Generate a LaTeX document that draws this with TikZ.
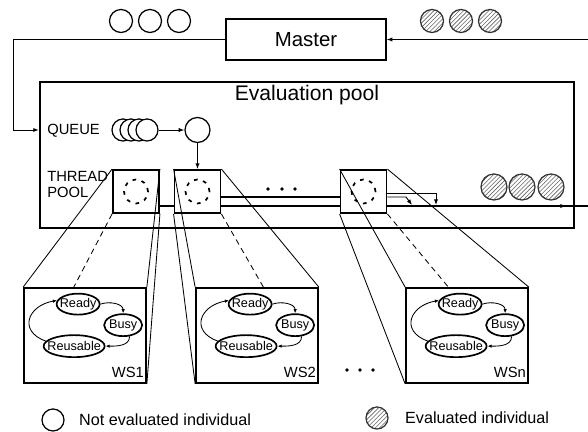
\documentclass[tikz,border=0pt]{standalone}
\usepackage{fontspec}
\setmainfont{Liberation Sans}
\usetikzlibrary{arrows.meta,patterns,positioning,shapes.geometric}

\tikzset{
  ind/.style={circle,draw,line width=0.9pt,minimum size=0.575cm,inner sep=0pt},
  evalind/.style={ind,draw=black!80,pattern=north east lines,pattern color=black!60},
  tpbox/.style={draw,line width=1.3pt,minimum width=1.15cm,minimum height=1.075cm,inner sep=0pt},
  wsbox/.style={draw,line width=1.2pt,fill=white,minimum width=3.05cm,minimum height=2.375cm,inner sep=0pt},
  wsstate/.style={ellipse,draw,line width=1.2pt,inner sep=0pt,font=\fontsize{9}{10}\selectfont},
  tagtext/.style={font=\fontsize{10.5}{11.5}\selectfont,inner sep=0pt},
  flow/.style={line width=0.7pt,-{Latex[length=4pt,width=3pt]}},
  statearrow/.style={line width=0.6pt,-{Latex[length=3pt,width=2.5pt]}},
  zoomline/.style={line width=0.6pt},
  hidden/.style={line width=0.6pt,dash pattern=on 4pt off 3pt},
}

\begin{document}
\begin{tikzpicture}[x=0.025cm,y=-0.025cm]
  \useasboundingbox (0,0) rectangle (588,432);

  % master
  \node[draw,line width=1pt,minimum width=4cm,minimum height=1.025cm,
        font=\fontsize{14.5}{16}\selectfont] (master) at (306,39.5) {Master};
  \foreach \x [count=\i] in {121,150,179} \node[ind] (sent\i) at (\x,21) {};
  \foreach \x [count=\i] in {432,461,490} \node[evalind] (back\i) at (\x,21) {};

  % evaluation pool
  \node[draw,line width=1.5pt,minimum width=13.35cm,minimum height=3.65cm] (pool) at (307,155) {};
  \node[font=\fontsize{15}{17}\selectfont] (pooltitle) at (307,95) {Evaluation pool};

  \coordinate (feed) at (13,130);
  \coordinate (ret) at (588,39.5);
  \draw[flow] (master.west) -| (feed) -- (feed -| pool.west);
  \draw[flow] (ret) -- (master.east);

  % queue
  \node[tagtext,anchor=west] (queuelab) at (47,131) {QUEUE};
  \foreach \x [count=\i] in {123,131,139,147}
    \node[ind,fill=white,minimum size=0.55cm] (q\i) at (\x,130) {};
  \node[ind,minimum size=0.625cm] (cur) at (197.5,130) {};
  \draw[flow] (q4) -- (cur);

  % thread pool
  \node[tagtext,anchor=north west,align=left] (tplab) at (47,171) {THREAD\\POOL};
  \node[tpbox] (tp1) at (136,191.5) {};
  \node[tpbox] (tp2) at (197.5,191.5) {};
  \node[tpbox] (tpn) at (363.5,191.5) {};
  \foreach \t in {tp1,tp2,tpn}
    \draw[line width=1.2pt,dash pattern=on 2.6pt off 4pt] (\t) circle (0.3cm);
  \draw[flow] (cur) -- (tp2);

  \coordinate (top) at (0,193);
  \coordinate (hi) at (0,197);
  \coordinate (lo) at (0,206);
  \draw[line width=0.9pt] (tp1.east |- lo) -- (tp2.west |- lo);
  \draw[line width=0.9pt] (tp2.east |- hi) -- (tpn.west |- hi);
  \draw[line width=0.9pt] (tp2.east |- lo) -- (tpn.west |- lo);
  \foreach \x in {268,282,295} \fill (\x,189) circle (1.3pt);

  % results
  \coordinate (drop1) at (412,205);
  \coordinate (drop2) at (436,205);
  \coordinate (bend) at (406,197);
  \coordinate (arrive) at (566,206);
  \coordinate (exit) at (588,206);
  \draw[flow] (tpn.east |- top) -| (drop2);
  \draw[flow] (tpn.east |- hi) -- (bend) -- (drop1);
  \draw[line width=0.9pt] (tpn.east |- lo) -- (exit);
  \draw[flow] (tpn.east |- lo) -- (arrive);
  \foreach \x [count=\i] in {494,522,551}
    \node[evalind,minimum size=0.65cm] (done\i) at (\x,187) {};

  % workers
  \node[wsbox] (ws1) at (85,335.5) {};
  \node[wsbox] (ws2) at (257,335.5) {};
  \node[wsbox] (wsn) at (467,335.5) {};

  \draw[zoomline] (tp1.north west) -- (ws1.north west);
  \draw[zoomline] (tp1.north east) -- (ws1.north east);
  \draw[zoomline] (tp1.south east) -- (ws1.south east);
  \draw[hidden] (tp1.south west) --
    (intersection of tp1.south west--ws1.south west and ws1.north west--ws1.north east);
  \foreach \t/\w in {tp2/ws2,tpn/wsn} {
    \draw[zoomline] (\t.north west) -- (\w.north west);
    \draw[zoomline] (\t.south west) -- (\w.south west);
    \draw[zoomline] (\t.north east) -- (\w.north east);
    \draw[hidden] (\t.south east) --
      (intersection of \t.south east--\w.south east and \w.north west--\w.north east);
  }

  \foreach \w/\lab in {ws1/WS1,ws2/WS2,wsn/WSn} {
    \begin{scope}[shift={(\w.north west)}]
      \node[wsstate,minimum width=1.075cm,minimum height=0.525cm] (\w-ready) at (55,17) {\makebox[0pt]{Ready}};
      \node[wsstate,minimum width=0.95cm,minimum height=0.55cm] (\w-busy) at (100,38) {\makebox[0pt]{Busy}};
      \node[wsstate,minimum width=1.525cm,minimum height=0.55cm] (\w-reuse) at (51,59) {\makebox[0pt]{Reusable}};
      \node[tagtext,anchor=base east] (\w-name) at (121,90) {\lab};
    \end{scope}
    \draw[statearrow] (\w-ready.east) to[out=20,in=90] (\w-busy.north);
    \draw[statearrow] (\w-busy.-60) to[out=-90,in=0] (\w-reuse.east);
    \draw[statearrow] (\w-reuse.170) to[out=160,in=190,looseness=1.8] (\w-ready.170);
  }
  \foreach \x in {347,360,373} \fill (\x,370) circle (1.3pt);

  % legend
  \node[ind,minimum size=0.55cm] (keyopen) at (53,420) {};
  \node[font=\fontsize{11.5}{13}\selectfont,right=0.24cm of keyopen] (keyopenlab) {Not evaluated individual};
  \node[evalind,minimum size=0.55cm] (keyeval) at (377,418) {};
  \node[font=\fontsize{11.5}{13}\selectfont,right=0.29cm of keyeval] (keyevallab) {Evaluated individual};
\end{tikzpicture}
\end{document}
